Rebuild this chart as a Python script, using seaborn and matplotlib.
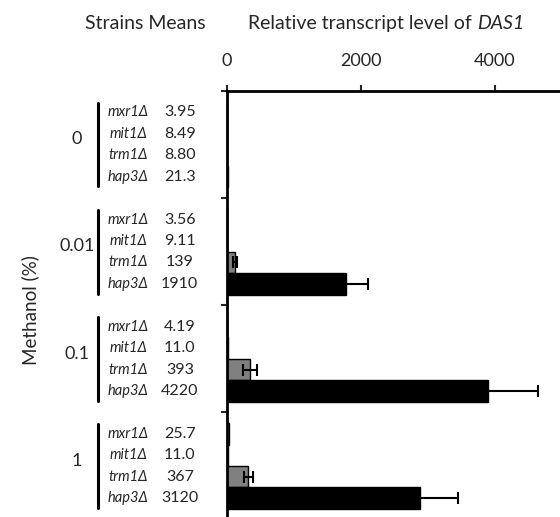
import matplotlib
matplotlib.use("Agg")
from matplotlib import pyplot as plt
from matplotlib import transforms
import seaborn as sns
import pandas as pd

methanol = ["0", "0.01", "0.1", "1"]
strains = ["mxr1Δ", "mit1Δ", "trm1Δ", "hap3Δ"]
# bar lengths (rows: methanol, cols: strains)
bar_values = [[3.95, 8.49, 8.80, 21.3],
              [3.56, 9.11, 124, 1774],
              [4.19, 11.0, 347, 3900],
              [25.7, 11.0, 322, 2882]]
bar_errors = [[0, 0, 0, 0],
              [0, 0, 25, 337],
              [0, 0, 104, 745],
              [0, 0, 62, 571]]
# means printed next to the strain names
mean_labels = [["3.95", "8.49", "8.80", "21.3"],
               ["3.56", "9.11", "139", "1910"],
               ["4.19", "11.0", "393", "4220"],
               ["25.7", "11.0", "367", "3120"]]
bar_colors = ["white", "#d9d9d9", "#808080", "black"]

sns.set_style("white")
plt.rcParams['font.family'] = ['Lato', 'DejaVu Sans']

rows = []
for i, m in enumerate(methanol):
    for j, s in enumerate(strains):
        rows.append({'methanol': m, 'strain': s, 'level': bar_values[i][j]})
df = pd.DataFrame(rows)

fig = plt.figure(figsize=(5.6, 5.17), dpi=100)
ax = fig.add_axes([0.405, -0.005, 0.595, 0.829])

sns.barplot(data=df, y='methanol', x='level', hue='strain',
            order=methanol, hue_order=strains, orient='h',
            palette=bar_colors, errorbar=None, legend=False,
            edgecolor='black', linewidth=1, ax=ax)

# error bars on top of the bars
bar_conts = list(ax.containers)
for j, cont in enumerate(bar_conts):
    for i, bar in enumerate(cont):
        err = bar_errors[i][j]
        if err > 0:
            ax.errorbar(bar.get_width(), bar.get_y() + bar.get_height() / 2,
                        xerr=err, fmt='none', ecolor='black',
                        elinewidth=1.5, capsize=4.5, capthick=1.5, zorder=5)

ax.set_xlim(0, 4970)
ax.set_ylim(3.5, -0.5)
ax.set_xticks([0, 2000, 4000])
ax.set_yticks([-0.5, 0.5, 1.5, 2.5, 3.5])
ax.set_yticklabels([])
ax.set_xlabel('')
ax.set_ylabel('')
ax.xaxis.tick_top()
ax.tick_params(axis='x', direction='out', length=4, width=1.5, pad=12,
               labelsize=13, top=True, bottom=False)
ax.tick_params(axis='y', direction='out', length=4, width=1.5, left=True)
for side in ['right', 'bottom']:
    ax.spines[side].set_visible(False)
for side in ['left', 'top']:
    ax.spines[side].set_linewidth(2)
    ax.spines[side].set_color('black')

# left side annotations: group labels, brackets, strain names and means
trans = transforms.blended_transform_factory(fig.transFigure, ax.transData)
offsets = [-0.3, -0.1, 0.1, 0.3]
for i, m in enumerate(methanol):
    ax.text(0.1375, i - 0.05, m, transform=trans, ha='center', va='center',
            fontsize=13, clip_on=False)
    ax.plot([0.175, 0.175], [i - 0.39, i + 0.39], transform=trans,
            color='black', lw=2.2, clip_on=False)
    for j, s in enumerate(strains):
        ax.text(0.2286, i + offsets[j], s, transform=trans, ha='center',
                va='center', fontsize=10.5, fontstyle='italic', clip_on=False)
        ax.text(0.321, i + offsets[j], mean_labels[i][j], transform=trans,
                ha='center', va='center', fontsize=11.5, clip_on=False)

fig.text(0.054, 0.40, 'Methanol (%)', rotation=90, ha='center', va='center',
         fontsize=13.5)
fig.text(0.259, 0.955, 'Strains Means', ha='center', va='center', fontsize=14)

# header with italic gene name, two pieces placed side by side
t1 = fig.text(0.443, 0.955, 'Relative transcript level of ', ha='left',
              va='center', fontsize=14)
fig.canvas.draw()
bb = t1.get_window_extent().transformed(fig.transFigure.inverted())
fig.text(bb.x1, 0.955, 'DAS1', ha='left', va='center', fontsize=14,
         fontstyle='italic')

fig.savefig('out.png', dpi=100)
